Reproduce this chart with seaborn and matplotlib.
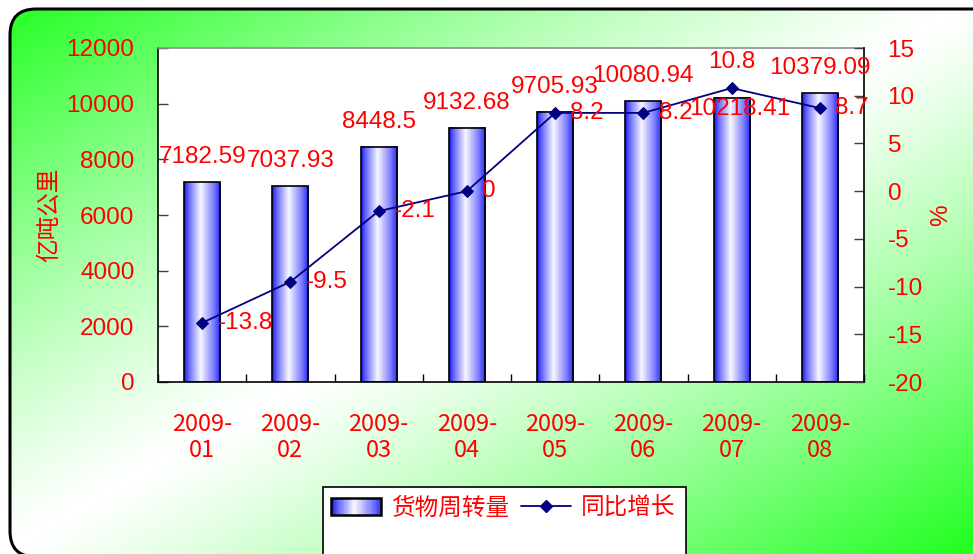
import numpy as np
import pandas as pd
import matplotlib
matplotlib.use('Agg')
import matplotlib.pyplot as plt
import seaborn as sns
from matplotlib.patches import FancyBboxPatch, Rectangle
from matplotlib.lines import Line2D
from matplotlib.legend_handler import HandlerBase

# data
months = ['2009-\n01', '2009-\n02', '2009-\n03', '2009-\n04',
          '2009-\n05', '2009-\n06', '2009-\n07', '2009-\n08']
freight = [7182.59, 7037.93, 8448.5, 9132.68, 9705.93, 10080.94, 10218.41, 10379.09]
growth = [-13.8, -9.5, -2.1, 0, 8.2, 8.2, 10.8, 8.7]

bar_name = '货物周转量'
line_name = '同比增长'

sns.set_style('white')
plt.rcParams['font.family'] = ['Liberation Sans', 'Noto Sans CJK SC']
plt.rcParams['axes.unicode_minus'] = False

RED = '#ff0000'
NAVY = '#000080'
CJK = ['Noto Sans CJK SC', 'DejaVu Sans']
FS = 17.5

W, H = 973, 554
fig = plt.figure(figsize=(W / 100, H / 100), dpi=100)
fig.patch.set_facecolor('white')

# background: rounded frame with diagonal green-white-green gradient
bg = fig.add_axes([0, 0, 1, 1], zorder=-5)
bg.set_xlim(0, W)
bg.set_ylim(0, H)
bg.axis('off')
gx, gy = np.meshgrid(np.linspace(0, 1, 400), np.linspace(0, 1, 240))
s = (gx + gy) / 2  # 0 at top-left, 1 at bottom-right (image rows from top)
w = np.abs(s - 0.5) * 2
w = np.clip(w, 0, 1) ** 1.2
green = np.array([0.12, 1.0, 0.12])
white = np.array([1.0, 1.0, 1.0])
img = white[None, None, :] * (1 - w[..., None]) + green[None, None, :] * w[..., None]
frame = FancyBboxPatch((10, -3), 990, H - 9 + 3,
                       boxstyle='round,pad=0,rounding_size=26',
                       facecolor='none', edgecolor='black', linewidth=2.2, zorder=3)
bg.add_patch(frame)
im = bg.imshow(img, extent=[0, W, 0, H], origin='upper', aspect='auto', zorder=1)
im.set_clip_path(frame)
# legend box
bg.add_patch(Rectangle((323, -6), 363, H - 487 + 6, facecolor='white',
                       edgecolor='black', linewidth=1.2, zorder=4))

# main axes
left, right = 158 / W, 864 / W
bottom, top = 1 - 382 / H, 1 - 48 / H
ax = fig.add_axes([left, bottom, right - left, top - bottom])
ax.set_facecolor('white')

df = pd.DataFrame({'month': months, 'freight': freight})
sns.barplot(data=df, x='month', y='freight', ax=ax, width=0.41,
            color='white', edgecolor='black', linewidth=1.2, zorder=3)

# horizontal blue-white-blue gradient in each bar
pos = [0, 0.12, 0.45, 0.8, 1.0]
cols = np.array([[0.1, 0.1, 0.95], [0.4, 0.4, 1.0], [0.97, 0.97, 1.0],
                 [0.5, 0.5, 1.0], [0.15, 0.15, 0.95]])
xs = np.linspace(0, 1, 64)
row = np.stack([np.interp(xs, pos, cols[:, c]) for c in range(3)], axis=-1)[None, :, :]
for p in ax.patches:
    x0, y0 = p.get_x(), p.get_y()
    pw, ph = p.get_width(), p.get_height()
    ax.imshow(row, extent=[x0, x0 + pw, y0, y0 + ph], aspect='auto',
              interpolation='bilinear', zorder=2)
    p.set_facecolor('none')

ax.set_xlim(-0.5, len(months) - 0.5)
ax.set_ylim(0, 12000)
ax.set_yticks(np.arange(0, 12001, 2000))
ax.set_xlabel('')
ax.set_ylabel('')
ax.set_xticks(range(len(months)))
ax.set_xticklabels(months, color=RED, fontsize=17, family=CJK, linespacing=1.2)
ax.set_xticks(np.arange(-0.5, len(months)), minor=True)
ax.tick_params(axis='x', which='major', length=0, pad=22)
ax.tick_params(axis='x', which='minor', length=6, direction='in', color='black', width=1, top=False, bottom=True)
ax.tick_params(axis='y', length=7, direction='in', color='#404040', width=1,
               labelcolor=RED, labelsize=FS, pad=17, left=True)
for sp in ['left', 'bottom']:
    ax.spines[sp].set_color('black')
    ax.spines[sp].set_linewidth(1.2)
ax.spines['top'].set_color('#909090')
ax.spines['top'].set_linewidth(1.2)
ax.spines['right'].set_visible(False)
ax.grid(False)

# growth line on right axis
ax2 = ax.twinx()
xpos = np.arange(len(months))
sns.lineplot(x=xpos, y=growth, ax=ax2, color=NAVY, marker='D', markersize=6.5,
             markeredgecolor=NAVY, linewidth=1.3, zorder=5)
ax2.set_ylim(-20, 15)
ax2.set_yticks(np.arange(-20, 16, 5))
ax2.set_ylabel('')
ax2.tick_params(axis='y', length=7, direction='in', color='#404040', width=1,
                labelcolor=RED, labelsize=FS, pad=17, right=True)
for sp in ['top', 'left', 'bottom']:
    ax2.spines[sp].set_visible(False)
ax2.spines['right'].set_color('black')
ax2.spines['right'].set_linewidth(1.2)
ax2.grid(False)

# data labels
for i, v in enumerate(freight):
    off = (6, -8) if i == 6 else (0, 18)
    ax2.annotate(str(v), xy=(i, v), xycoords=ax.transData, xytext=off,
                 textcoords='offset points', ha='center', va='center',
                 color=RED, fontsize=FS, zorder=6)
for i, v in enumerate(growth):
    if i == 6:
        ax2.annotate(str(v), xy=(i, v), xytext=(0, 19), textcoords='offset points',
                     ha='center', va='center', color=RED, fontsize=FS, zorder=6)
    else:
        ax2.annotate(str(v), xy=(i, v), xytext=(11, 0), textcoords='offset points',
                     ha='left', va='center', color=RED, fontsize=FS, zorder=6)

# axis titles
fig.text(50 / W, 1 - 215 / H, '亿吨公里', rotation=90, ha='center', va='center',
         color=RED, fontsize=17, family=CJK)
fig.text(941 / W, 1 - 215 / H, '%', rotation=90, ha='center', va='center',
         color=RED, fontsize=FS)


class GradHandler(HandlerBase):
    def create_artists(self, legend, orig_handle, xdescent, ydescent, width, height,
                       fontsize, trans):
        arts = []
        n = 30
        for k in range(n):
            c = row[0, int(k / n * (row.shape[1] - 1))]
            arts.append(Rectangle((-xdescent + width * k / n, -ydescent), width / n + 0.3, height,
                                  facecolor=c, edgecolor='none', transform=trans))
        arts.append(Rectangle((-xdescent, -ydescent), width, height, facecolor='none',
                              edgecolor='black', linewidth=1.8, transform=trans))
        return arts


bar_handle = Rectangle((0, 0), 1, 1)
line_handle = Line2D([], [], color=NAVY, marker='D', markersize=6.5, linewidth=1.3)
leg = fig.legend([bar_handle, line_handle], [bar_name, line_name],
                 handler_map={Rectangle: GradHandler()},
                 loc='center left', bbox_to_anchor=(331 / W, 1 - 508 / H), ncol=2,
                 frameon=False, handlelength=2.1, handleheight=0.75, handletextpad=0.45,
                 columnspacing=0.5, borderpad=0, borderaxespad=0,
                 prop={'family': CJK, 'size': 17})
for t in leg.get_texts():
    t.set_color(RED)

fig.savefig('out.png', dpi=100)
